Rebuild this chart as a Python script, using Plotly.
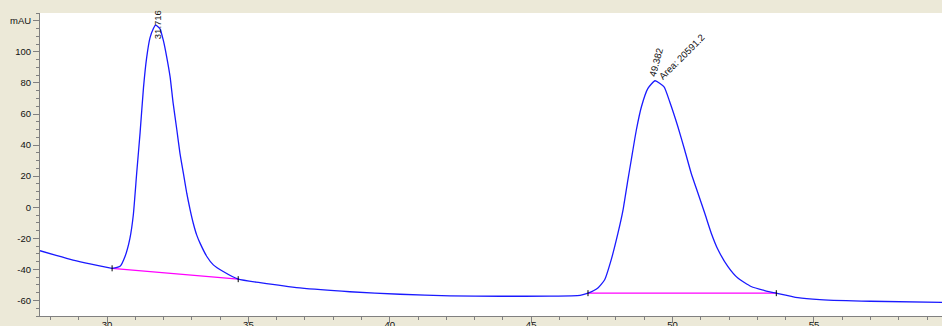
import plotly.graph_objects as go

# Detector signal (mAU) versus retention time (min)
time_min = [27.63, 28.2, 28.8, 29.4, 30.0, 30.18, 30.46, 30.64, 30.81, 30.93,
            31.05, 31.17, 31.29, 31.40, 31.52, 31.64, 31.716, 31.87, 31.99, 32.11,
            32.23, 32.34, 32.47, 32.58, 32.70, 32.82, 32.94, 33.05, 33.17, 33.29,
            33.53, 33.76, 34.11, 34.64, 35.41, 36.82, 38.59, 40.36, 42.13, 43.90,
            45.66, 46.73, 47.01, 47.36, 47.60, 47.83, 48.07, 48.25, 48.42, 48.54,
            48.72, 48.90, 49.13, 49.382, 49.70, 49.90, 50.19, 50.43, 50.66, 50.90,
            51.14, 51.37, 51.61, 51.96, 52.31, 52.78, 53.26, 53.67, 54.43, 55.21,
            57.00, 59.53]
signal_mau = [-28.0, -31.0, -34.0, -36.5, -38.7, -39.3, -38.0, -31.5, -20.0, -5.0,
              22.0, 48.0, 77.0, 96.0, 109.0, 115.0, 117.2, 115.0, 107.5, 96.8,
              84.0, 66.8, 49.7, 34.7, 21.9, 9.0, -1.7, -10.3, -17.8, -23.1,
              -31.7, -37.1, -41.4, -46.3, -48.5, -51.9, -54.4, -56.0, -57.0, -57.3,
              -57.2, -56.7, -55.3, -52.0, -46.7, -33.9, -16.7, -1.7, 17.5, 30.4,
              49.7, 64.7, 76.5, 81.4, 77.5, 67.9, 51.8, 36.8, 21.9, 9.0,
              -3.9, -16.7, -27.4, -38.2, -45.6, -51.0, -53.6, -55.3, -58.2, -59.4,
              -60.5, -61.2]

# Integrated peaks
peak_rt = [31.716, 49.382]
peak_height = [117.2, 81.4]
peak_area_text = ["", "Area: 20591.2"]
base_start_t = [30.18, 47.01]
base_start_y = [-39.3, -55.3]
base_end_t = [34.64, 53.67]
base_end_y = [-46.3, -55.3]

# Axis ticks
x_major = [30, 35, 40, 45, 50, 55]
y_major = [-60, -40, -20, 0, 20, 40, 60, 80, 100, 120]
y_major_text = ["-60", "-40", "-20", "0", "20", "40", "60", "80", "100", "mAU"]

PANEL = "#ECE9D8"
AXIS = "#808080"
FONT = "Liberation Sans, Arial, sans-serif"

fig = go.Figure()

# Integration baselines
for t0, y0, t1, y1 in zip(base_start_t, base_start_y, base_end_t, base_end_y):
    fig.add_trace(go.Scatter(x=[t0, t1], y=[y0, y1], mode="lines",
                             line=dict(color="#FF00FF", width=1.2),
                             hoverinfo="skip", showlegend=False))

# Chromatogram
fig.add_trace(go.Scatter(x=time_min, y=signal_mau, mode="lines",
                         line=dict(color="#1A1AFF", width=1.3, shape="spline", smoothing=0.5),
                         showlegend=False))

# Start/end markers of each integration
shapes = []
for t, yv in list(zip(base_start_t, base_start_y)) + list(zip(base_end_t, base_end_y)):
    shapes.append(dict(type="line", xref="x", yref="y", x0=t, x1=t,
                       ysizemode="pixel", yanchor=yv, y0=-3, y1=3,
                       line=dict(color="black", width=1)))

# Peak labels
annotations = []
annotations.append(dict(x=peak_rt[0], y=peak_height[0], xref="x", yref="y",
                        text=f"{peak_rt[0]:.3f}", textangle=-90, showarrow=False,
                        xshift=1.5, yshift=0, font=dict(family=FONT, size=9.5, color="#111111")))
annotations.append(dict(x=peak_rt[1], y=peak_height[1], xref="x", yref="y",
                        text=f"{peak_rt[1]:.3f}", textangle=-75, showarrow=False,
                        xshift=1, yshift=18, font=dict(family=FONT, size=9.5, color="#111111")))
annotations.append(dict(x=peak_rt[1], y=peak_height[1], xref="x", yref="y",
                        text=peak_area_text[1], textangle=-45, showarrow=False,
                        xshift=27, yshift=24, font=dict(family=FONT, size=9.5, color="#111111")))

fig.update_layout(
    width=942, height=326,
    margin=dict(l=40, r=0, t=13, b=10),
    paper_bgcolor=PANEL, plot_bgcolor="white",
    shapes=shapes, annotations=annotations,
    font=dict(family=FONT, size=9.5, color="#111111"),
    xaxis=dict(range=[27.63, 59.53], showgrid=False, zeroline=False, automargin=False,
               showline=True, linecolor=AXIS, linewidth=1,
               tickmode="array", tickvals=x_major, ticktext=[str(v) for v in x_major],
               ticks="outside", ticklen=6, tickcolor=AXIS, ticklabelstandoff=-6,
               minor=dict(dtick=1, tick0=0, ticks="outside", ticklen=3, tickcolor=AXIS),
               tickfont=dict(family=FONT, size=9.5, color="#111111")),
    yaxis=dict(range=[-70, 125], showgrid=False, zeroline=False, automargin=False,
               showline=True, linecolor=AXIS, linewidth=1,
               tickmode="array", tickvals=y_major, ticktext=y_major_text,
               ticks="outside", ticklen=6, tickcolor=AXIS,
               minor=dict(dtick=5, tick0=0, ticks="outside", ticklen=3, tickcolor=AXIS),
               tickfont=dict(family=FONT, size=9.5, color="#111111")),
)

fig.write_html("out.html")
